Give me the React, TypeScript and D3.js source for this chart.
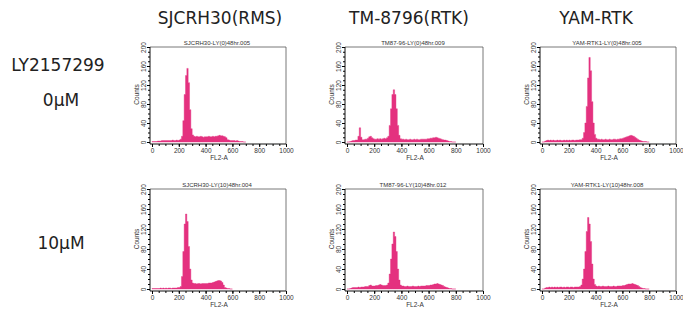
import React, { useRef, useEffect } from "react";
import * as d3 from "d3";

// FL2-A histograms, counts per 10-channel bin starting at channel 0
const BIN = 10;
const xTicks = [0, 200, 400, 600, 800, 1000];
const yTicks = [0, 40, 80, 120, 160, 200];

const drugLabel = "LY2157299";
const cellLines = ["SJCRH30(RMS)", "TM-8796(RTK)", "YAM-RTK"];
const doses = ["0μM", "10μM"];
const panelTitles = [
  "SJCRH30-LY(0)48hr.005",
  "TM87-96-LY(0)48hr.009",
  "YAM-RTK1-LY(0)48hr.005",
  "SJCRH30-LY(10)48hr.004",
  "TM87-96-LY(10)48hr.012",
  "YAM-RTK1-LY(10)48hr.008",
];

const sjcrh30_0 = [
  1, 1, 1, 1, 2, 2, 2, 3, 3, 3,
  3, 3, 3, 3, 3, 4, 3, 3, 4, 3,
  4, 6, 12, 45, 100, 140, 155, 125, 68, 28,
  15, 12, 11, 12, 11, 11, 12, 11, 10, 11,
  11, 11, 12, 11, 11, 12, 11, 12, 12, 13,
  14, 13, 13, 12, 11, 9, 5, 4, 3, 3,
  3, 3, 2, 3, 2, 1, 1, 1, 0, 0,
];
const tm8796_0 = [
  0, 0, 1, 2, 3, 3, 4, 4, 12, 30,
  10, 5, 5, 6, 6, 8, 11, 12, 9, 7,
  6, 6, 7, 6, 7, 6, 7, 8, 7, 9,
  12, 35, 70, 100, 110, 100, 70, 35, 14, 7,
  6, 6, 5, 6, 5, 5, 6, 5, 5, 6,
  5, 6, 5, 5, 6, 6, 6, 6, 6, 7,
  7, 8, 8, 9, 9, 10, 9, 8, 7, 6,
  5, 4, 4, 3, 2, 1, 1, 0, 0, 0,
];
const yam_0 = [
  0, 0, 2, 3, 4, 3, 4, 3, 4, 3,
  3, 4, 3, 4, 3, 3, 4, 3, 4, 3,
  4, 3, 4, 4, 3, 4, 4, 4, 5, 5,
  8, 20, 40, 75, 135, 178, 150, 85, 40, 16,
  8, 6, 6, 5, 6, 5, 5, 6, 5, 5,
  6, 5, 5, 6, 6, 5, 6, 6, 7, 7,
  8, 9, 10, 11, 12, 13, 14, 13, 12, 10,
  8, 6, 4, 3, 2, 1, 1, 1, 0, 0,
];
const sjcrh30_10 = [
  1, 1, 1, 1, 1, 1, 2, 1, 2, 1,
  2, 1, 2, 2, 1, 2, 2, 2, 2, 3,
  3, 5, 25, 75, 130, 150, 135, 85, 40, 18,
  12, 11, 11, 10, 11, 11, 10, 11, 11, 11,
  11, 11, 12, 12, 12, 13, 14, 15, 16, 17,
  17, 16, 13, 8, 3, 2, 1, 1, 0, 0,
];
const tm8796_10 = [
  0, 0, 1, 2, 3, 3, 3, 3, 4, 3,
  4, 4, 4, 5, 5, 5, 7, 8, 6, 6,
  6, 7, 7, 8, 9, 8, 7, 7, 7, 8,
  12, 30, 60, 90, 114, 105, 75, 40, 18, 8,
  6, 6, 5, 5, 6, 5, 5, 5, 6, 5,
  5, 5, 6, 5, 6, 6, 6, 6, 7, 7,
  7, 8, 8, 9, 10, 10, 11, 10, 9, 8,
  7, 5, 4, 3, 2, 1, 1, 0, 0, 0,
];
const yam_10 = [
  0, 0, 2, 3, 3, 4, 3, 4, 3, 4,
  3, 4, 3, 4, 4, 3, 4, 3, 4, 4,
  3, 4, 4, 3, 4, 4, 4, 4, 5, 8,
  20, 40, 75, 115, 143, 130, 95, 50, 20, 9,
  6, 5, 6, 5, 5, 6, 5, 5, 5, 6,
  5, 5, 5, 6, 5, 5, 6, 6, 6, 6,
  7, 7, 8, 9, 10, 10, 10, 11, 10, 9,
  8, 7, 5, 3, 2, 1, 1, 0, 0, 0,
];
const panelCounts = [sjcrh30_0, tm8796_0, yam_0, sjcrh30_10, tm8796_10, yam_10];

// layout of the scanned panels (pixel position of channel 0 / count 200)
const colX = [152, 347, 542];
const colW = [134, 136, 134];
const rowTop = [47, 189];
const rowH = [95, 100];

const W = 683;
const H = 322;
const PINK = "#e4317f";
const AXIS_FONT = "'Liberation Sans', Arial, sans-serif";
const LABEL_FONT = "'DejaVu Sans', Verdana, sans-serif";

const App = () => {
  const svgRef = useRef<SVGSVGElement>(null);

  useEffect(() => {
    const svg = d3.select(svgRef.current);
    svg.selectAll("*").remove();

    svg.append("rect").attr("width", W).attr("height", H).attr("fill", "#fff");

    const headerX = [220, 409, 596];
    svg.selectAll("text.header")
      .data(cellLines)
      .enter()
      .append("text")
      .attr("class", "header")
      .attr("x", (d, i) => headerX[i])
      .attr("y", 24)
      .attr("text-anchor", "middle")
      .style("font-family", LABEL_FONT)
      .style("font-size", "17px")
      .attr("fill", "#222")
      .text(d => d);

    svg.append("text")
      .attr("x", 58)
      .attr("y", 71)
      .attr("text-anchor", "middle")
      .style("font-family", LABEL_FONT)
      .style("font-size", "17px")
      .attr("fill", "#222")
      .text(drugLabel);

    const doseY = [106, 249];
    doses.forEach((d, i) => {
      svg.append("text")
        .attr("x", 61)
        .attr("y", doseY[i])
        .attr("text-anchor", "middle")
        .style("font-family", LABEL_FONT)
        .style("font-size", "17px")
        .attr("fill", "#222")
        .text(d);
    });

    panelCounts.forEach((counts, i) => {
      const row = Math.floor(i / 3);
      const col = i % 3;
      const x0 = colX[col], x1 = colX[col] + colW[col];
      const top = rowTop[row], bottom = rowTop[row] + rowH[row];

      const x = d3.scaleLinear().domain([0, 1000]).range([x0, x1]);
      const y = d3.scaleLinear().domain([0, 200]).range([bottom, top]);

      const g = svg.append("g");

      const pts: [number, number][] = counts.map((v, k) => [k * BIN, v]);
      pts.push([counts.length * BIN, 0]);

      const area = d3.area<[number, number]>()
        .x(d => x(d[0]))
        .y0(y(0))
        .y1(d => y(d[1]))
        .curve(d3.curveStepAfter);

      g.append("path")
        .attr("d", area(pts))
        .attr("fill", PINK)
        .attr("stroke", PINK)
        .attr("stroke-width", 0.4);

      // frame
      const fl = x0 - 2, fb = bottom + 2;
      g.append("line").attr("x1", fl).attr("x2", x1).attr("y1", top).attr("y2", top)
        .attr("stroke", "#555").attr("stroke-width", 0.8);
      g.append("line").attr("x1", x1).attr("x2", x1).attr("y1", top).attr("y2", fb)
        .attr("stroke", "#555").attr("stroke-width", 0.8);
      g.append("line").attr("x1", fl).attr("x2", fl).attr("y1", top).attr("y2", fb)
        .attr("stroke", "#111").attr("stroke-width", 1);
      g.append("line").attr("x1", fl).attr("x2", x1).attr("y1", fb).attr("y2", fb)
        .attr("stroke", "#111").attr("stroke-width", 1);

      // x axis ticks
      const xMinor = g.append("g").attr("transform", `translate(0,${fb})`)
        .call(d3.axisBottom(x).tickValues(d3.range(0, 1001, 50)).tickSize(2).tickSizeOuter(0).tickFormat(() => ""));
      xMinor.select(".domain").remove();
      const xMajor = g.append("g").attr("transform", `translate(0,${fb})`)
        .call(d3.axisBottom(x).tickValues(xTicks).tickSize(3).tickSizeOuter(0).tickPadding(1).tickFormat(d3.format("d")));
      xMajor.select(".domain").remove();
      xMajor.selectAll("text")
        .style("font-family", AXIS_FONT)
        .style("font-size", "6.5px")
        .attr("fill", "#333");

      // y axis ticks
      const yMinor = g.append("g").attr("transform", `translate(${fl},0)`)
        .call(d3.axisLeft(y).tickValues(d3.range(0, 201, 10)).tickSize(2).tickSizeOuter(0).tickFormat(() => ""));
      yMinor.select(".domain").remove();
      const yMajor = g.append("g").attr("transform", `translate(${fl},0)`)
        .call(d3.axisLeft(y).tickValues(yTicks).tickSize(3).tickSizeOuter(0));
      yMajor.select(".domain").remove();
      yMajor.selectAll("text")
        .attr("x", 0)
        .attr("y", 0)
        .attr("dy", 0)
        .attr("transform", "translate(-4.5,0) rotate(-90)")
        .attr("text-anchor", "middle")
        .style("font-family", AXIS_FONT)
        .style("font-size", "6.5px")
        .attr("fill", "#333");

      g.append("text")
        .attr("transform", `translate(${fl - 11},${(top + bottom) / 2}) rotate(-90)`)
        .attr("text-anchor", "middle")
        .style("font-family", AXIS_FONT)
        .style("font-size", "6.5px")
        .attr("fill", "#333")
        .text("Counts");

      g.append("text")
        .attr("x", (x0 + x1) / 2)
        .attr("y", fb + 16)
        .attr("text-anchor", "middle")
        .style("font-family", AXIS_FONT)
        .style("font-size", "6.5px")
        .attr("fill", "#333")
        .text("FL2-A");

      g.append("text")
        .attr("x", (x0 + x1) / 2 - 2)
        .attr("y", top - 2)
        .attr("text-anchor", "middle")
        .style("font-family", AXIS_FONT)
        .style("font-size", "6px")
        .attr("fill", "#333")
        .text(panelTitles[i]);
    });
  }, []);

  return (
    <svg
      ref={svgRef}
      width={W}
      height={H}
      style={{ position: "absolute", left: 0, top: 0 }}
    ></svg>
  );
};

export default App;
